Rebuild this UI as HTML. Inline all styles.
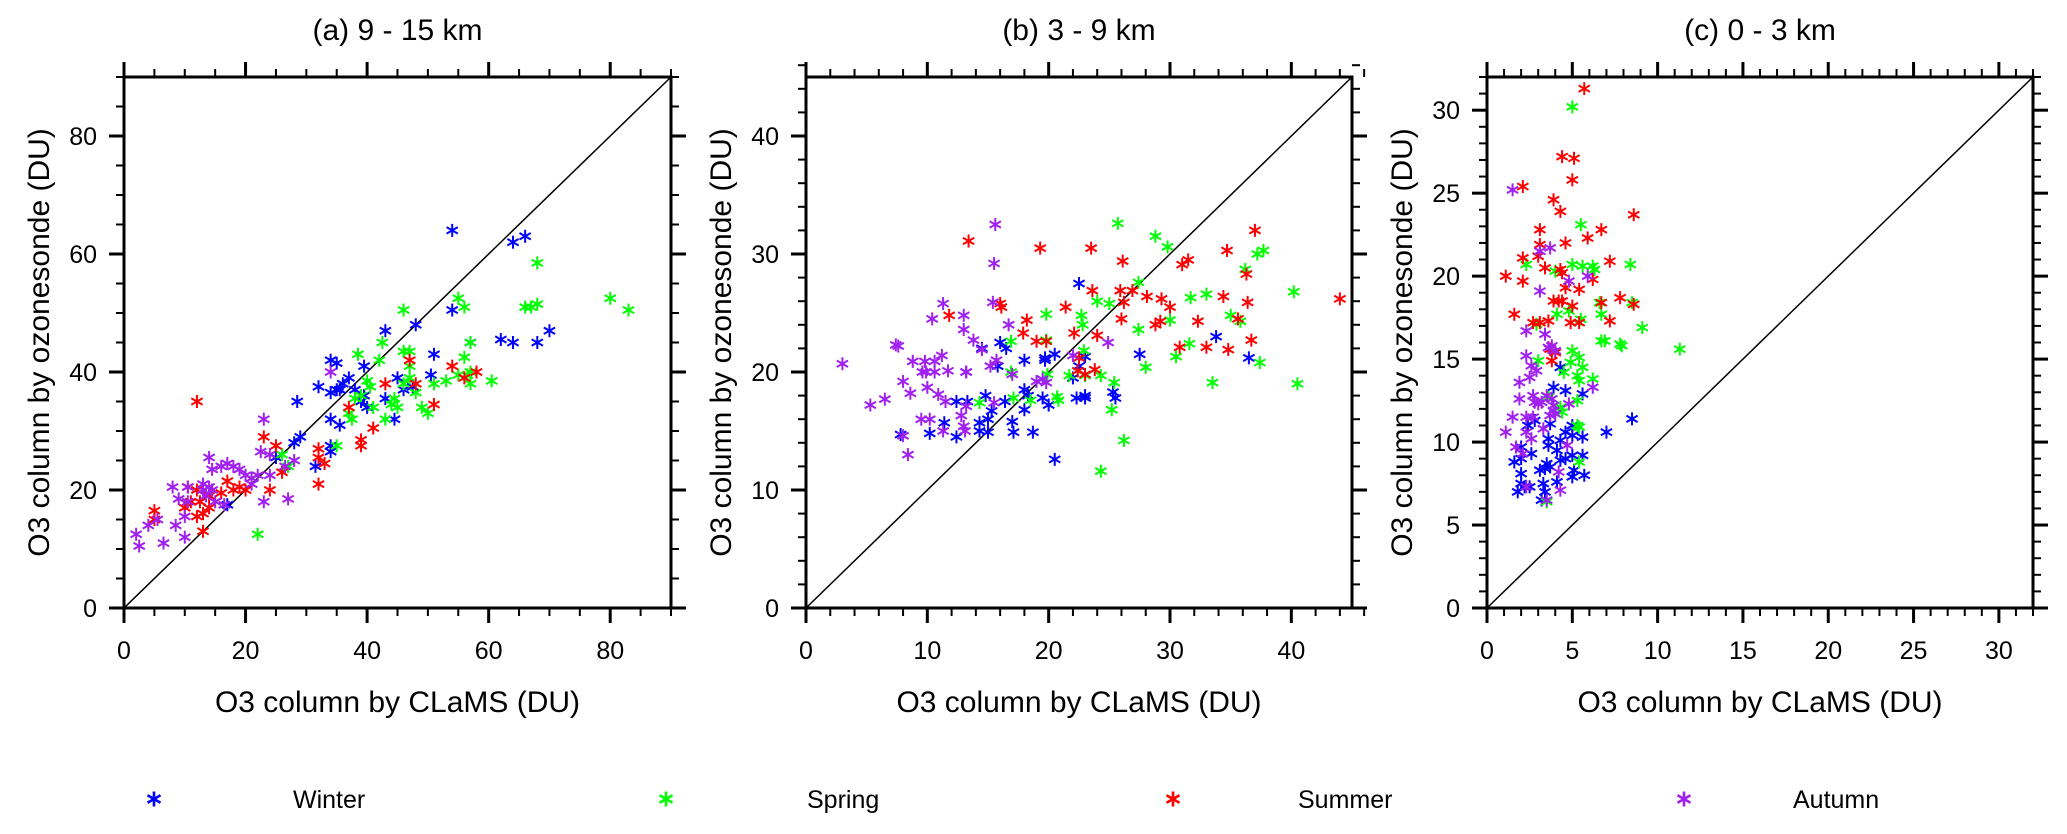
<!DOCTYPE html>
<html><head><meta charset="utf-8"><style>
html,body{margin:0;padding:0;background:#fff;}
svg{display:block;font-family:"Liberation Sans",Arial,sans-serif;}
</style></head><body>
<svg id="chart" width="2067" height="834" viewBox="0 0 2067 834"></svg>
<script>
// ---- data ----
const seasons = ["Winter","Spring","Summer","Autumn"];
const seasonColors = ["#0000ff","#00ff00","#ff0000","#a020f0"];
const panelTitles = ["(a) 9 - 15 km","(b) 3 - 9 km","(c) 0 - 3 km"];
const axisMax = [90,45,32];
const majorTicks = [[0,20,40,60,80],[0,10,20,30,40],[0,5,10,15,20,25,30]];
const minorStep = [5,2,1];

const aWinter=[[54,64],[64,62],[66,63],[70,47],[68,45],[62,45.5],[64,45],[54,50.5],[48,48],[43,47],[57,45],[51,43],[50.5,39.5],[45,39],[46,37],[47.5,37.5],[44.5,32],[43,35.5],[40,34],[39,35],[39.5,36],[39.5,41],[37,39],[38,37],[35.5,37],[34,36.5],[35,37],[36,38],[34,42],[35,41.5],[32,37.5],[34,32],[35.5,31],[28.5,35],[29,29],[28,28],[34,27.5],[34,26.5],[31.5,24],[25,25.5],[17,17.5]];
const aSpring=[[68,58.5],[80,52.5],[83,50.5],[66,51],[67,51],[68,51.5],[55,52.5],[56,51],[46,50.5],[42.5,45],[46,43.5],[47,43.5],[57,45],[56,42.5],[42,42],[38.5,43],[57,40],[56.5,39.5],[55,39.5],[53,38.5],[51,38],[60.5,38.5],[57,38],[47,41],[47,39],[46,38],[48,36.5],[49,34],[50,33],[44.5,35.5],[44,34.5],[45,34],[41,34],[43,32],[40,38.5],[40.5,37.5],[39,36],[38,35.5],[37,33],[37.5,32],[35,27.5],[26,26],[27,24],[22,12.5]];
const aSummer=[[12,35],[47,42],[54,41],[58,40],[56,39],[48,38],[43,38],[51,34.5],[37,34],[41,30.5],[39,28.5],[39,27.5],[23,29],[25,27.5],[32,27],[32,25.5],[33,24.5],[32,21],[26,23],[24,20],[13,13],[5,16.5],[5,15],[10,17],[12,15.5],[13,16],[11,18],[12.5,18],[14,19],[16,19.5],[17,21.5],[18,20],[19,20.5],[20,20],[14,17],[10.5,20.5],[12,20]];
const aAutumn=[[2,12.5],[2.5,10.5],[4,14],[5.5,15],[6.5,11],[8.5,14],[10,12],[8,20.5],[9,18.5],[10.5,20.5],[10,15.5],[10.5,18],[13,20],[14,20.5],[13.5,19],[14,25.5],[14.5,23.5],[16,24],[17,24.5],[18,24],[19,23.5],[20,22.5],[21,22],[21,21],[22,22.5],[15,18],[16.5,17.5],[23,32],[22.5,26.5],[24,26],[24,22.5],[23,18],[27,18.5],[28,25],[26.5,24],[34,40],[13,21],[14.5,20]];

const bWinter=[[22.5,27.5],[16,22.5],[16.5,22],[14.5,22],[20.5,21.5],[19.7,21],[19.7,21.2],[23,21.3],[18,21],[15.8,20.5],[13.2,20],[22,19.5],[22.5,20.5],[18,18.5],[18.3,18],[19.5,17.8],[20,17.2],[22.3,17.8],[23,17.8],[23,18],[25.3,18.3],[25.5,17.8],[16.4,17.5],[14.8,18],[12.4,17.5],[13.3,17.5],[11.4,15.7],[14.3,15.7],[15,16],[15.3,16.7],[17,15.8],[18,16.8],[10.2,14.8],[12.4,14.5],[14.3,15],[15,14.9],[17.1,14.9],[18.7,14.9],[7.8,14.7],[20.5,12.6],[27.5,21.5],[33.8,23],[36.5,21.2]];
const bSpring=[[25.7,32.6],[28.8,31.5],[29.8,30.6],[37.2,30],[37.7,30.3],[36.2,28.7],[27.4,27.6],[24,26],[25,25.8],[19.8,24.9],[22.7,24.8],[22.8,24],[16.9,22.6],[19.8,22.7],[27.4,23.6],[30,24.4],[31.7,26.3],[33,26.6],[35,24.8],[35.8,24.3],[40.2,26.8],[30.5,21.3],[31.6,22.4],[28,20.4],[22.9,21.8],[16.9,20],[19.9,19.8],[21.7,19.7],[23,19.7],[24.3,19.7],[17.1,17.8],[18.5,17.6],[20.7,17.9],[20.8,17.6],[14.3,17.4],[25.4,19.1],[25.2,16.8],[26.2,14.2],[24.3,11.6],[33.5,19.1],[40.5,19],[37.4,20.8]];
const bSummer=[[13.4,31.1],[19.3,30.5],[23.5,30.5],[26.1,29.4],[31,29.1],[31.5,29.5],[34.7,30.3],[37,32],[36.3,28.3],[23.6,26.9],[25.9,26.9],[26.9,26.9],[26.2,25.9],[28.1,26.4],[29.3,26.2],[30,25.5],[34.4,26.4],[36.4,25.9],[44,26.2],[21.4,25.5],[16,25.8],[16.1,25.5],[11.8,24.8],[18.2,24.4],[17.9,23.3],[22.1,23.3],[24,23.1],[26,24.5],[28.8,24],[29.2,24.3],[32.3,24.3],[35.6,24.5],[19,22.6],[19.8,22.6],[30.8,22.1],[33,22.1],[34.8,21.9],[36.7,22.7],[22.5,21.2],[22.4,20.1],[23,19.8],[23.8,20.2]];
const bAutumn=[[15.6,32.5],[15.5,29.2],[11.3,25.8],[10.4,24.5],[13,24.8],[15.4,25.9],[13,23.6],[16.7,24],[13.8,22.7],[7.4,22.3],[7.6,22.2],[14.5,21.9],[24.9,22.5],[8.8,20.9],[9.8,20.9],[10.6,20.9],[11.2,21.4],[3,20.7],[9.6,20],[9.9,20],[10.6,20],[11.7,20.1],[13.2,20],[15.7,21],[17,19.8],[8,19.2],[10,18.7],[8.6,18.2],[10.9,18.1],[5.3,17.2],[6.5,17.7],[11.5,17.5],[13.2,17.1],[15.5,17.4],[15.2,20.5],[9.5,16],[10.2,16],[12.8,16.3],[13,15.4],[13.1,15],[11.3,15],[8,14.6],[8.4,13],[19,19.2],[19.5,19.4],[19.8,19.1],[22,21.4]];

const cWinter=[[4.3,14.5],[3.9,13.3],[4.6,13.1],[5.6,12.9],[8.5,11.4],[2.4,11],[2.8,11.3],[3.7,11.1],[5,11],[7,10.6],[4.6,10.6],[3.6,10.2],[3.6,9.8],[4.3,10.1],[5,10.4],[5.6,10.3],[2,9.7],[4.1,9.5],[4.6,9],[5,9.2],[5.6,9.2],[1.6,8.8],[2,9],[2.6,9.3],[3.1,8.3],[3.4,8.4],[3.5,8.7],[3.7,8.5],[4.3,8.9],[5.1,8.3],[5,7.9],[5.7,8],[2,8.1],[2,7.5],[2.2,7.3],[2.5,7.3],[1.8,7],[3.3,7.5],[4.1,7.6],[3.4,7],[3.2,6.5]];
const cSpring=[[5,30.2],[5.5,23.1],[2.3,20.7],[4,20.3],[5,20.7],[5.6,20.6],[6.2,20.6],[6.3,20.4],[8.4,20.7],[4.1,17.7],[4.8,17.9],[5.5,17.4],[6.6,18.4],[6.7,17.7],[8.5,18.4],[9.1,16.9],[6.7,16.1],[6.9,16.1],[7.8,15.9],[7.9,15.8],[11.3,15.6],[3,14.9],[4.5,14.2],[5,15.5],[4.9,14.8],[5.4,15.1],[5.6,14.5],[5.3,14],[5.4,13.7],[6.2,13.8],[4.3,12.1],[4.4,11.8],[5.3,12.5],[3.6,12.7],[5.3,11],[5.4,10.9],[5.4,8.8],[3.5,6.4],[2.9,17.1]];
const cSummer=[[5.7,31.3],[4.4,27.2],[5.1,27.1],[5,25.8],[2.1,25.4],[3.9,24.6],[4.3,23.9],[8.6,23.7],[3.1,22.8],[6.7,22.8],[4.6,22],[5.9,22.3],[3.1,21.9],[2.1,21.1],[3,21.2],[7.2,20.9],[1.1,20],[2.1,19.7],[3.4,20.5],[4.3,20.4],[4.4,20.2],[6.2,19.8],[4.6,19.3],[5.4,19.2],[3.9,18.5],[4.2,18.5],[4.4,18.5],[7.8,18.7],[6.7,18.4],[8.6,18.3],[5,18.2],[1.6,17.7],[2.7,17.2],[3.1,17.2],[3.6,17.3],[4.9,17.2],[5.4,17.2],[7.2,17.3],[3.7,15.6],[3.8,14.9],[4,15.4]];
const cAutumn=[[1.5,25.2],[3.1,21.5],[3.7,21.7],[4.8,19.7],[5.9,20],[3.1,19.1],[2.3,16.7],[3.4,16.5],[3.6,15.7],[3.8,15.8],[4,15.5],[2.3,15.2],[2.6,14.6],[2.9,14.3],[2.5,13.9],[1.9,13.6],[1.9,12.6],[2.7,12.8],[2.8,12.4],[3,12.3],[3.2,12.4],[3.5,12.8],[3.8,12.6],[3.9,12.2],[3.9,11.9],[4,11.7],[3.7,11.6],[1.5,11.5],[2.3,11.5],[2.7,11.5],[4.8,12.3],[6.2,13.3],[1.1,10.6],[2.3,10.6],[2.6,10.2],[3.3,10.8],[4.7,9.8],[1.7,9.7],[2.1,9.3],[4.2,8.2],[2.3,7.3],[4.3,7.1],[3.5,6.5]];

const panelSeries=[[aWinter,aSpring,aSummer,aAutumn],[bWinter,bSpring,bSummer,bAutumn],[cWinter,cSpring,cSummer,cAutumn]];

// ---- layout ----
const NS="http://www.w3.org/2000/svg";
const svg=document.getElementById('chart');
const boxes=[{l:124,r:671},{l:806,r:1352},{l:1487,r:2033}];
const plotTop=77,plotBot=608;
function mk(tag,attrs,parent){const e=document.createElementNS(NS,tag);for(const k in attrs)e.setAttribute(k,attrs[k]);(parent||svg).appendChild(e);return e;}
function star(g,cx,cy,r,color,w){
  for(const a of [90,30,150]){const t=a*Math.PI/180;
    mk('line',{x1:cx-r*Math.cos(t),y1:cy-r*Math.sin(t),x2:cx+r*Math.cos(t),y2:cy+r*Math.sin(t),stroke:color,'stroke-width':w},g);}
}
const pNames=['panel-a','panel-b','panel-c'];
for(let p=0;p<3;p++){
  const b=boxes[p],m=axisMax[p];
  const xs=v=>b.l+(v/m)*(b.r-b.l);
  const ys=v=>plotBot-(v/m)*(plotBot-plotTop);
  const g=mk('g',{});
  
  
  const t=mk('text',{x:(b.l+b.r)/2,y:40,'text-anchor':'middle','font-size':30},g);
  t.textContent=panelTitles[p];
  
  
  const tg=mk('g',{stroke:'#000'},g);
  const n=Math.round(m/minorStep[p]);
  for(let i=0;i<=n;i++){
    const v=i*minorStep[p];
    const isMaj=majorTicks[p].some(q=>Math.abs(q-v)<1e-9);
    const L=isMaj?15:8, sw=isMaj?3:2;
    const X=xs(v),Y=ys(v);
    mk('line',{x1:X,y1:plotBot,x2:X,y2:plotBot+L,'stroke-width':sw},tg);
    mk('line',{x1:X,y1:plotTop,x2:X,y2:plotTop-L,'stroke-width':sw},tg);
    mk('line',{x1:b.l,y1:Y,x2:b.l-L,y2:Y,'stroke-width':sw},tg);
    mk('line',{x1:b.r,y1:Y,x2:b.r+L,y2:Y,'stroke-width':sw},tg);
  }
  for(const v of majorTicks[p]){
    const xl=mk('text',{x:xs(v),y:659,'text-anchor':'middle','font-size':25},g);xl.textContent=v;
    
    
    const yl=mk('text',{x:b.l-27,y:ys(v)+9,'text-anchor':'end','font-size':25},g);yl.textContent=v;
    
    
  }
  const xt=mk('text',{x:(b.l+b.r)/2,y:712,'text-anchor':'middle','font-size':30},g);
  xt.textContent='O3 column by CLaMS (DU)';
  
  
  const ycx=b.l-85,ycy=(plotTop+plotBot)/2;
  const yt=mk('text',{x:ycx,y:ycy+10,'text-anchor':'middle','font-size':30,transform:`rotate(-90 ${ycx} ${ycy})`},g);
  yt.textContent='O3 column by ozonesonde (DU)';
  
  
  const d=mk('line',{x1:xs(0),y1:ys(0),x2:xs(m),y2:ys(m),stroke:'#000','stroke-width':1.5},g);
  
  
  for(let s=0;s<4;s++){
    const sg=mk('g',{},g);
    
    
    for(const pt of panelSeries[p][s]){
      const mg=mk('g',{},sg);
      
      
      star(mg,xs(pt[0]),ys(pt[1]),6.5,seasonColors[s],2);
    }
  }
  const fr=mk('rect',{x:b.l,y:plotTop,width:b.r-b.l,height:plotBot-plotTop,fill:'none',stroke:'#000','stroke-width':3},g);
  
  
}
const legMarkX=[154,666,1173,1684],legTextX=[293,807,1298,1793];
const lg=mk('g',{});


for(let s=0;s<4;s++){
  const e=mk('g',{},lg);
  
  
  star(e,legMarkX[s],799,7.5,seasonColors[s],2.6);
  const t=mk('text',{x:legTextX[s],y:808,'font-size':25},e);
  t.textContent=seasons[s];
}
</script>
</body></html>
